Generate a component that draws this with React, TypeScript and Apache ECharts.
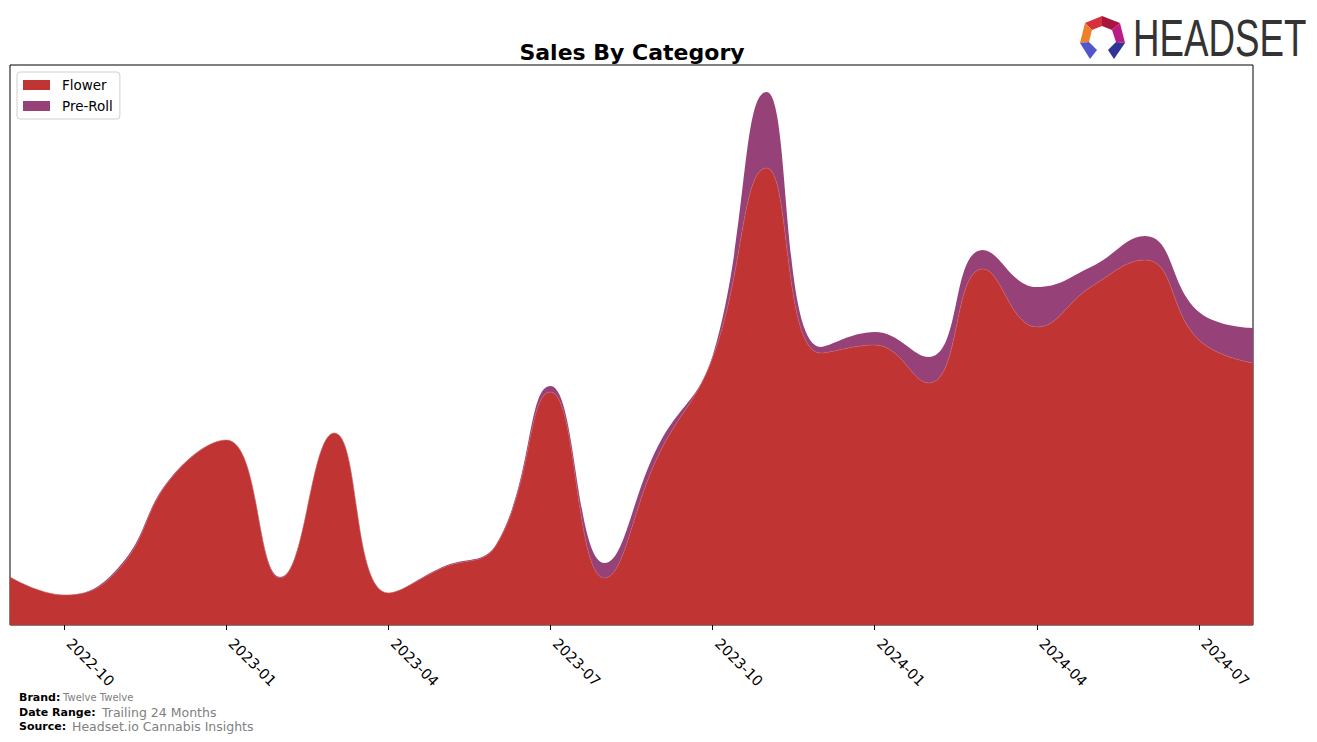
import React, { useEffect, useRef } from "react";
import * as echarts from "echarts";

const months = [
  "2022-09", "2022-10", "2022-11", "2022-12", "2023-01", "2023-02", "2023-03", "2023-04",
  "2023-05", "2023-06", "2023-07", "2023-08", "2023-09", "2023-10", "2023-11", "2023-12",
  "2024-01", "2024-02", "2024-03", "2024-04", "2024-05", "2024-06", "2024-07", "2024-08",
];
const flower = [48, 30, 55, 148, 185, 47, 192, 32, 57, 80, 233, 47, 170, 267, 457, 272, 280, 242, 356, 298, 338, 365, 285, 262];
const preRoll = [0, 0, 2, 1, 0, 1, 0, 0, 1, 1, 6, 15, 10, 2, 76, 6, 13, 26, 19, 40, 20, 24, 28, 35];
const tickMonths = ["2022-10", "2023-01", "2023-04", "2023-07", "2023-10", "2024-01", "2024-04", "2024-07"];

const FONT = "DejaVu Sans";

export default function App() {
  const ref = useRef<HTMLDivElement>(null);
  useEffect(() => {
    if (!ref.current) return;
    const chart = echarts.init(ref.current, null, { renderer: "svg" });
    const isTick = (_i: number, v: string) => tickMonths.indexOf(v) >= 0;
    chart.setOption({
      animation: false,
      backgroundColor: "#ffffff",
      textStyle: { fontFamily: FONT },
      title: {
        text: "Sales By Category",
        left: 627,
        top: 36,
        textAlign: "center",
        textStyle: { fontFamily: FONT, fontSize: 22, fontWeight: "bold", color: "#000" },
      },
      legend: {
        orient: "vertical",
        left: 17,
        top: 72,
        padding: [6, 7, 6, 6],
        itemGap: 7,
        itemWidth: 27,
        itemHeight: 10,
        icon: "rect",
        backgroundColor: "#fff",
        borderColor: "#d0d0d0",
        borderWidth: 1,
        borderRadius: 3,
        textStyle: { fontFamily: FONT, fontSize: 13.5, color: "#000", padding: [0, 0, 0, 7] },
        data: ["Flower", "Pre-Roll"],
      },
      grid: {
        left: 10,
        right: 64,
        top: 65,
        bottom: 117,
        show: true,
        borderColor: "#000",
        borderWidth: 1,
        backgroundColor: "transparent",
      },
      xAxis: {
        type: "category",
        boundaryGap: false,
        data: months,
        splitLine: { show: false },
        axisLine: { show: false },
        axisTick: { show: true, interval: isTick, length: 5, lineStyle: { color: "#000" } },
        axisLabel: {
          interval: isTick,
          rotate: -45,
          margin: 11,
          padding: [0, 0, 0, 7],
          fontFamily: FONT,
          fontSize: 14.5,
          color: "#000",
        },
      },
      yAxis: {
        type: "value",
        min: 0,
        max: 560,
        show: false,
        splitLine: { show: false },
      },
      series: [
        {
          name: "Flower",
          type: "line",
          stack: "total",
          smooth: 0.45,
          symbol: "none",
          lineStyle: { width: 0.6, color: "#c86060" },
          itemStyle: { color: "#c13434" },
          areaStyle: { color: "#c13434", opacity: 1 },
          data: flower,
        },
        {
          name: "Pre-Roll",
          type: "line",
          stack: "total",
          smooth: 0.45,
          symbol: "none",
          lineStyle: { width: 0 },
          itemStyle: { color: "#964279" },
          areaStyle: { color: "#964279", opacity: 1 },
          data: preRoll,
        },
      ],
      graphic: [
        { type: "polygon", shape: { points: [[1102, 16], [1085, 23], [1092, 30], [1102, 26]] }, style: { fill: "#d9303e" } },
        { type: "polygon", shape: { points: [[1102, 16], [1120, 23], [1112, 30], [1102, 26]] }, style: { fill: "#a8153d" } },
        { type: "polygon", shape: { points: [[1085, 23], [1080, 43], [1089, 42], [1092, 30]] }, style: { fill: "#f07f2a" } },
        { type: "polygon", shape: { points: [[1120, 23], [1125, 43], [1116, 42], [1112, 30]] }, style: { fill: "#bb1b83" } },
        { type: "polygon", shape: { points: [[1080, 43], [1089, 42], [1097, 50], [1090, 59]] }, style: { fill: "#5256cc" } },
        { type: "polygon", shape: { points: [[1125, 43], [1116, 42], [1108, 50], [1114, 59]] }, style: { fill: "#33349a" } },
        {
          type: "text",
          x: 1133,
          y: 38,
          scaleX: 0.72,
          style: {
            text: "HEADSET",
            fontFamily: "Liberation Sans",
            fontSize: 51,
            fill: "#333333",
            textVerticalAlign: "middle",
          },
        },
        { type: "text", x: 19, y: 697, style: { text: "Brand:", fontFamily: FONT, fontSize: 11, fontWeight: "bold", fill: "#000", textVerticalAlign: "middle" } },
        { type: "text", x: 63, y: 697, style: { text: "Twelve Twelve", fontFamily: FONT, fontSize: 10, fill: "#808080", textVerticalAlign: "middle" } },
        { type: "text", x: 19, y: 712, style: { text: "Date Range:", fontFamily: FONT, fontSize: 11, fontWeight: "bold", fill: "#000", textVerticalAlign: "middle" } },
        { type: "text", x: 102, y: 712, style: { text: "Trailing 24 Months", fontFamily: FONT, fontSize: 12.5, fill: "#808080", textVerticalAlign: "middle" } },
        { type: "text", x: 19, y: 726, style: { text: "Source:", fontFamily: FONT, fontSize: 11, fontWeight: "bold", fill: "#000", textVerticalAlign: "middle" } },
        { type: "text", x: 72, y: 726, style: { text: "Headset.io Cannabis Insights", fontFamily: FONT, fontSize: 12.5, fill: "#808080", textVerticalAlign: "middle" } },
      ],
    });
    return () => chart.dispose();
  }, []);
  return (
    <div
      ref={ref}
      style={{ position: "fixed", left: 0, top: 0, width: 1317, height: 742, background: "#fff" }}
    />
  );
}
